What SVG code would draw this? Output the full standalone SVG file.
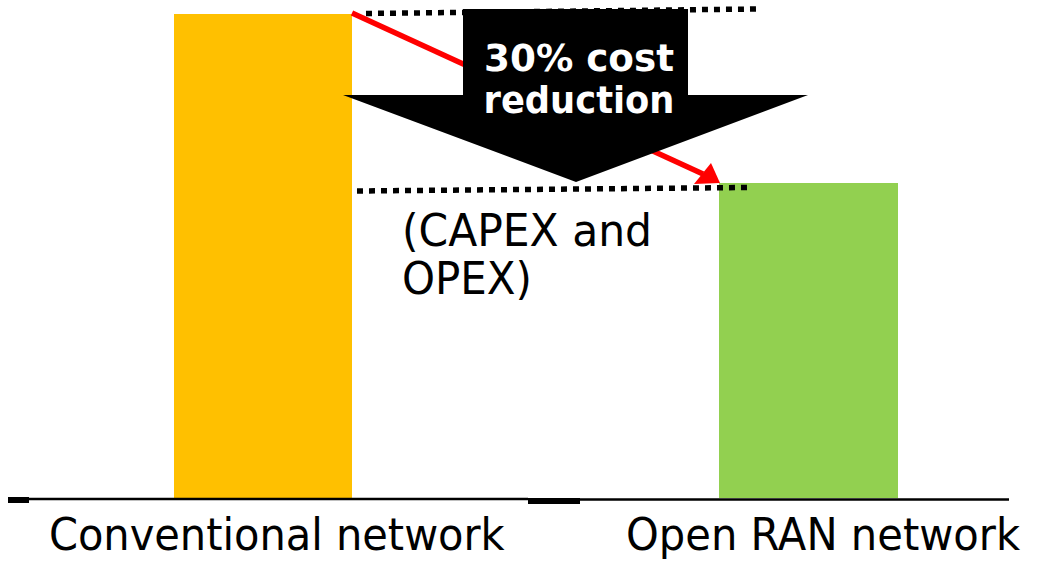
<svg xmlns="http://www.w3.org/2000/svg" width="1037" height="562" viewBox="0 0 1037 562">
  <style>
    .label { font-family: "DejaVu Sans", "Liberation Sans", sans-serif; font-size: 45px; fill: #000; }
    .note { font-family: "DejaVu Sans", "Liberation Sans", sans-serif; font-size: 45px; fill: #000; }
    .banner { font-family: "DejaVu Sans", "Liberation Sans", sans-serif; font-size: 38px; font-weight: bold; fill: #fff; }
    .dots { stroke: #000; stroke-width: 5.5; stroke-dasharray: 6 6; fill: none; }
    .axis { stroke: #000; stroke-width: 2.5; fill: none; }
  </style>

  <rect width="1037" height="562" fill="#fff"/>

  <!-- bars -->
  <g id="bar-conventional">
    <rect x="174" y="14" width="178" height="484" fill="#FFC000"/>
  </g>
  <g id="bar-openran">
    <rect x="719" y="183" width="179" height="315" fill="#92D050"/>
  </g>

  <!-- baseline axis -->
  <g id="axis">
    <line class="axis" x1="8" y1="499" x2="528" y2="499"/>
    <rect x="8" y="497" width="21" height="6" fill="#000"/>
    <line class="axis" x1="528" y1="499.5" x2="1009" y2="499.5"/>
    <rect x="528" y="498" width="52" height="6" fill="#000"/>
  </g>

  <!-- connectors: trend arrow and level guides -->
  <g id="connectors">
    <line x1="352" y1="13" x2="703" y2="174" stroke="#FF0000" stroke-width="5.5"/>
    <polygon points="720,183 694,184 711,163" fill="#FF0000"/>
    <line class="dots" x1="366" y1="13.5" x2="756" y2="9"/>
    <line class="dots" x1="357" y1="191" x2="748" y2="187.5"/>
  </g>

  <!-- reduction callout -->
  <g id="reduction-arrow">
    <polygon points="463,9 688,9 688,95 808,95 576,182 343,95 463,95" fill="#000"/>
    <text class="banner" x="579" y="71" text-anchor="middle" textLength="190" lengthAdjust="spacingAndGlyphs">30% cost</text>
    <text class="banner" x="579" y="113" text-anchor="middle" textLength="191" lengthAdjust="spacingAndGlyphs">reduction</text>
  </g>

  <g id="cost-note">
    <text class="note" x="402" y="246" textLength="250" lengthAdjust="spacingAndGlyphs">(CAPEX and</text>
    <text class="note" x="402" y="294" textLength="130" lengthAdjust="spacingAndGlyphs">OPEX)</text>
  </g>

  <!-- category labels (horizontally narrowed) -->
  <g id="label-conventional">
    <text class="label" transform="scale(0.9236 1)" x="53" y="550">Conventional network</text>
  </g>
  <g id="label-openran">
    <text class="label" transform="scale(0.9268 1)" x="675.4" y="550">Open RAN network</text>
  </g>
</svg>
